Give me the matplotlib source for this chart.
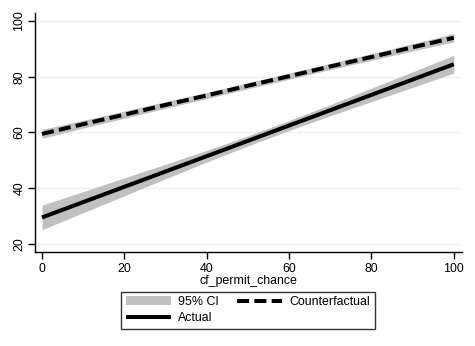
import numpy as np
import matplotlib.pyplot as plt

plt.rcParams['font.family'] = ['Liberation Sans', 'DejaVu Sans']

# fitted values
x = [0, 10, 20, 30, 40, 50, 60, 70, 80, 90, 100]
actual = [29.5, 35.0, 40.5, 46.0, 51.5, 57.0, 62.5, 68.0, 73.5, 79.0, 84.5]
actual_lo = [25.1, 31.2, 37.3, 43.4, 49.4, 55.2, 60.7, 66.0, 71.1, 76.2, 81.3]
actual_hi = [33.9, 38.8, 43.7, 48.6, 53.6, 58.8, 64.3, 70.0, 75.9, 81.8, 87.7]
cf = [59.5, 63.0, 66.4, 69.9, 73.3, 76.8, 80.2, 83.7, 87.1, 90.6, 94.0]
cf_lo = [57.9, 61.6, 65.1, 68.7, 72.2, 75.7, 79.1, 82.6, 85.9, 89.3, 92.5]
cf_hi = [61.1, 64.4, 67.7, 71.1, 74.4, 77.9, 81.3, 84.8, 88.3, 91.9, 95.5]

xticks = [0, 20, 40, 60, 80, 100]
yticks = [20, 40, 60, 80, 100]

fs = 8.9

fig = plt.figure(figsize=(4.75, 3.46), dpi=100)
ax = fig.add_axes([35/475, 1-252/346, (462-35)/475, (252-13)/346])

ci_col = '#c0c0c0'
ax.fill_between(x, actual_lo, actual_hi, color=ci_col, lw=0, label='95% CI', zorder=2)
ax.fill_between(x, cf_lo, cf_hi, color=ci_col, lw=0, zorder=2)
ax.plot(x, actual, color='black', lw=2.9, label='Actual', solid_capstyle='butt', zorder=3)
ax.plot(x, cf, color='black', lw=2.9, ls=(0, (3, 1.3)), dash_capstyle='butt',
        label='Counterfactual', zorder=3)

ax.set_xlim(-1.7, 102)
ax.set_ylim(17.1, 102.9)
ax.set_xticks(xticks)
ax.set_yticks(yticks)
ax.tick_params(labelsize=fs, length=5, width=1)
ax.tick_params(axis='x', pad=3)
ax.tick_params(axis='y', labelrotation=90, pad=2)
for lab in ax.get_yticklabels():
    lab.set_va('center')
ax.grid(axis='y', color='#eaf2f3', lw=1, zorder=0)
for s in ['top', 'right']:
    ax.spines[s].set_visible(False)
for s in ['left', 'bottom']:
    ax.spines[s].set_linewidth(1)
ax.set_xlabel('cf_permit_chance', fontsize=fs, labelpad=0)

h, l = ax.get_legend_handles_labels()
order = [l.index('95% CI'), l.index('Actual'), l.index('Counterfactual')]
leg = fig.legend([h[i] for i in order], [l[i] for i in order], ncol=2,
                 loc='center', bbox_to_anchor=(248/475, 1-310.3/346),
                 fontsize=fs, frameon=True, fancybox=False, edgecolor='black',
                 handlelength=3.65, handletextpad=0.57, columnspacing=1.5,
                 labelspacing=0.35, borderpad=0.35, borderaxespad=0)
leg.get_frame().set_linewidth(1)

fig.savefig('out.png', dpi=100)
